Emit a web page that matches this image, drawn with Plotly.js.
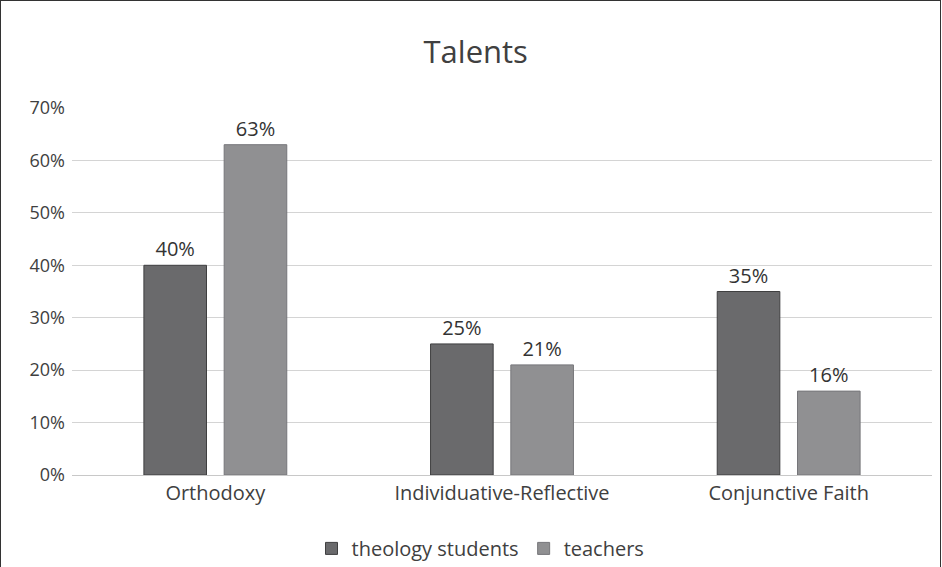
<!DOCTYPE html>
<html>
<head>
<meta charset="utf-8">
<script src="https://cdn.plot.ly/plotly-3.0.1.min.js"></script>
<style>
  html, body { margin: 0; padding: 0; background: #fff; }
  #wrap { position: relative; width: 942px; height: 567px; }
  #chart { width: 942px; height: 567px; }
  #frame { position: absolute; left: 0; top: 0; width: 939px; height: 580px; border: 1.5px solid #333; pointer-events: none; }
</style>
</head>
<body>
<div id="wrap"><div id="chart"></div><div id="frame"></div></div>
<script>
const categories = ["Orthodoxy", "Individuative-Reflective", "Conjunctive Faith"];
const theologyStudents = [40, 25, 35];
const teachers = [63, 21, 16];
const seriesNames = ["theology students", "teachers"];

const font = "Open Sans, Noto Sans, sans-serif";
const traces = [
  {
    type: "bar", name: seriesNames[0], x: categories, y: theologyStudents,
    marker: { color: "#6a6a6c", line: { color: "#3f3f40", width: 1 } },
    text: theologyStudents.map(v => v + "%"), textposition: "outside",
    textfont: { size: 20, color: "#333", family: font }, cliponaxis: false
  },
  {
    type: "bar", name: seriesNames[1], x: categories, y: teachers,
    marker: { color: "#909092", line: { color: "#76767a", width: 1 } },
    text: teachers.map(v => v + "%"), textposition: "outside",
    textfont: { size: 20, color: "#333", family: font }, cliponaxis: false
  }
];

const layout = {
  width: 942, height: 567,
  margin: { l: 72, r: 10, t: 108, b: 92, autoexpand: false },
  paper_bgcolor: "#fff", plot_bgcolor: "#fff",
  font: { family: font, color: "#404040", size: 18 },
  title: { text: "Talents", font: { size: 31, color: "#404040", family: font }, x: 0.505, xanchor: "center", y: 0.908, yanchor: "middle" },
  barmode: "group", bargap: 0.44, bargroupgap: 0.22,
  xaxis: {
    showgrid: false, showline: true, linecolor: "#c8c8c8", linewidth: 1,
    tickfont: { size: 20, color: "#404040" }, ticks: "", fixedrange: true, automargin: false
  },
  yaxis: {
    range: [0, 70], dtick: 10, ticksuffix: "%", showgrid: true, gridcolor: "#d4d4d4",
    gridwidth: 1, zeroline: false, showline: false, tickfont: { size: 18, color: "#404040" },
    ticks: "", ticklen: 0, automargin: false, ticklabelstandoff: 6
  },
  legend: {
    orientation: "h", x: 0.475, xanchor: "center", y: -0.2, yanchor: "middle",
    font: { size: 20, color: "#404040" }, itemwidth: 30
  },
  showlegend: true
};

Plotly.newPlot("chart", traces, layout, { displayModeBar: false, staticPlot: true });
</script>
</body>
</html>
